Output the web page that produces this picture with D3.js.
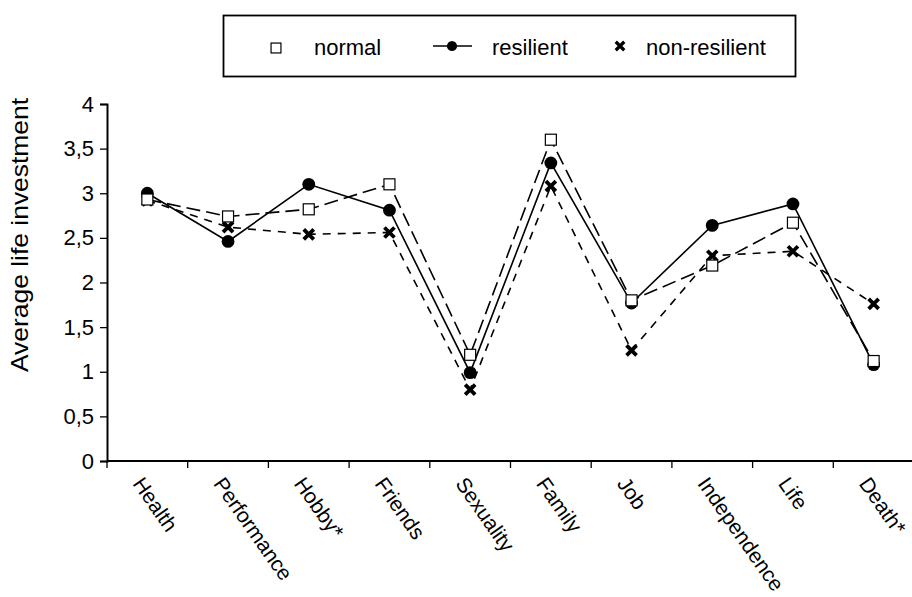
<!DOCTYPE html>
<html><head><meta charset="utf-8">
<script src="https://cdn.jsdelivr.net/npm/d3@7"></script>
<style>body{margin:0;background:#fff}svg{display:block;font-family:"Liberation Sans",Arial,sans-serif}</style>
</head><body><svg id="c" width="912" height="597"></svg>
<script>
const categories = ["Health","Performance","Hobby*","Friends","Sexuality","Family","Job","Independence","Life","Death*"];
const normal = [2.93,2.74,2.82,3.10,1.19,3.60,1.80,2.19,2.67,1.12];
const resilient = [3.00,2.46,3.10,2.81,0.99,3.34,1.77,2.64,2.88,1.08];
const nonResilient = [2.92,2.62,2.54,2.56,0.80,3.08,1.24,2.30,2.35,1.76];
const yTicks = [0,0.5,1,1.5,2,2.5,3,3.5,4];
const yTickLabels = ["0","0,5","1","1,5","2","2,5","3","3,5","4"];
const legendLabels = ["normal","resilient","non-resilient"];

const FONT = "Liberation Sans, Arial, sans-serif";
const svg = d3.select("#c");
const x = d3.scaleBand().domain(categories).range([107, 914]);
const y = d3.scaleLinear().domain([0,4]).range([461, 104]);

// y axis
const yAxis = d3.axisLeft(y).tickValues(yTicks).tickFormat((d,i)=>yTickLabels[i]).tickSizeOuter(0).tickSize(7).tickPadding(6);
const gy = svg.append("g").attr("transform","translate(107,0)").call(yAxis);
gy.select(".domain").attr("stroke","#000").attr("stroke-width",2);
gy.selectAll(".tick line").attr("stroke","#000").attr("stroke-width",1.3);
gy.selectAll(".tick text").attr("font-size",22).attr("fill","#000").attr("font-family",FONT);

// x axis
const xAxis = d3.axisBottom(x).tickSize(0).tickFormat("");
const gx = svg.append("g").attr("transform","translate(0,461)").call(xAxis);
gx.select(".domain").attr("stroke","#000").attr("stroke-width",2).attr("d","M107,0H912");
const edges = categories.map(c=>x(c)).filter(v=>v<=910);
gx.selectAll(".edge").data(edges).enter().append("line")
  .attr("x1",d=>d).attr("x2",d=>d).attr("y1",0).attr("y2",7).attr("stroke","#000").attr("stroke-width",1.3);
svg.append("g").selectAll("text").data(categories).enter().append("text")
  .attr("transform",d=>`translate(${x(d)+x.bandwidth()/2-3},${475}) rotate(55)`)
  .attr("font-size",21).attr("fill","#000").attr("text-anchor","start").attr("dy","0.72em")
  .attr("font-family",FONT)
  .text(d=>d);

// y title
svg.append("text").attr("transform","translate(28,235) rotate(-90) scale(1.15,1)").attr("text-anchor","middle")
  .attr("font-size",23).attr("fill","#000").attr("font-family",FONT).text("Average life investment");

const cx = d => x(d) + x.bandwidth()/2;
const line = d3.line().x((d,i)=>cx(categories[i])).y(d=>y(d));

const series = [
  {name:legendLabels[0], vals:normal, dash:"14,6", marker:"square"},
  {name:legendLabels[1], vals:resilient, dash:null, marker:"dot"},
  {name:legendLabels[2], vals:nonResilient, dash:"8,7", marker:"cross"}
];

function drawMarker(g, type, px, py, s){
  s = s || 1;
  if(type==="square"){
    const h = 5.5*s;
    g.append("rect").attr("x",px-h).attr("y",py-h).attr("width",2*h).attr("height",2*h)
     .attr("fill","#fff").attr("stroke","#000").attr("stroke-width",1.2);
  } else if(type==="dot"){
    g.append("circle").attr("cx",px).attr("cy",py).attr("r",6.4*s).attr("fill","#000");
  } else {
    const h = 5*s;
    g.append("path").attr("d",`M${px-h},${py-h}L${px+h},${py+h}M${px-h},${py+h}L${px+h},${py-h}`)
     .attr("stroke","#000").attr("stroke-width",3.8*s).attr("stroke-linecap","butt");
  }
}

series.forEach(s=>{
  svg.append("path").datum(s.vals).attr("d",line).attr("fill","none").attr("stroke","#000")
    .attr("stroke-width",1.6).attr("stroke-dasharray",s.dash);
});
[2,1,0].forEach(k=>{
  const s = series[k];
  const g = svg.append("g");
  s.vals.forEach((v,i)=>drawMarker(g, s.marker, cx(categories[i]), y(v)));
});

// legend
const lg = svg.append("g").attr("font-family",FONT).attr("font-size",22).attr("fill","#000");
lg.append("rect").attr("x",223.5).attr("y",15.5).attr("width",572).attr("height",61)
  .attr("fill","#fff").attr("stroke","#000").attr("stroke-width",1.8);
const ly = 47;
drawMarker(lg, "square", 276, ly+1, 0.9);
lg.append("text").attr("x",314).attr("y",ly+8).text(legendLabels[0]);
lg.append("line").attr("x1",433).attr("x2",472).attr("y1",ly-1).attr("y2",ly-1).attr("stroke","#000").attr("stroke-width",1.6);
drawMarker(lg, "dot", 452, ly-1, 0.8);
lg.append("text").attr("x",492).attr("y",ly+8).text(legendLabels[1]);
drawMarker(lg, "cross", 620, ly-1, 0.85);
lg.append("text").attr("x",646).attr("y",ly+8).text(legendLabels[2]);
</script></body></html>
